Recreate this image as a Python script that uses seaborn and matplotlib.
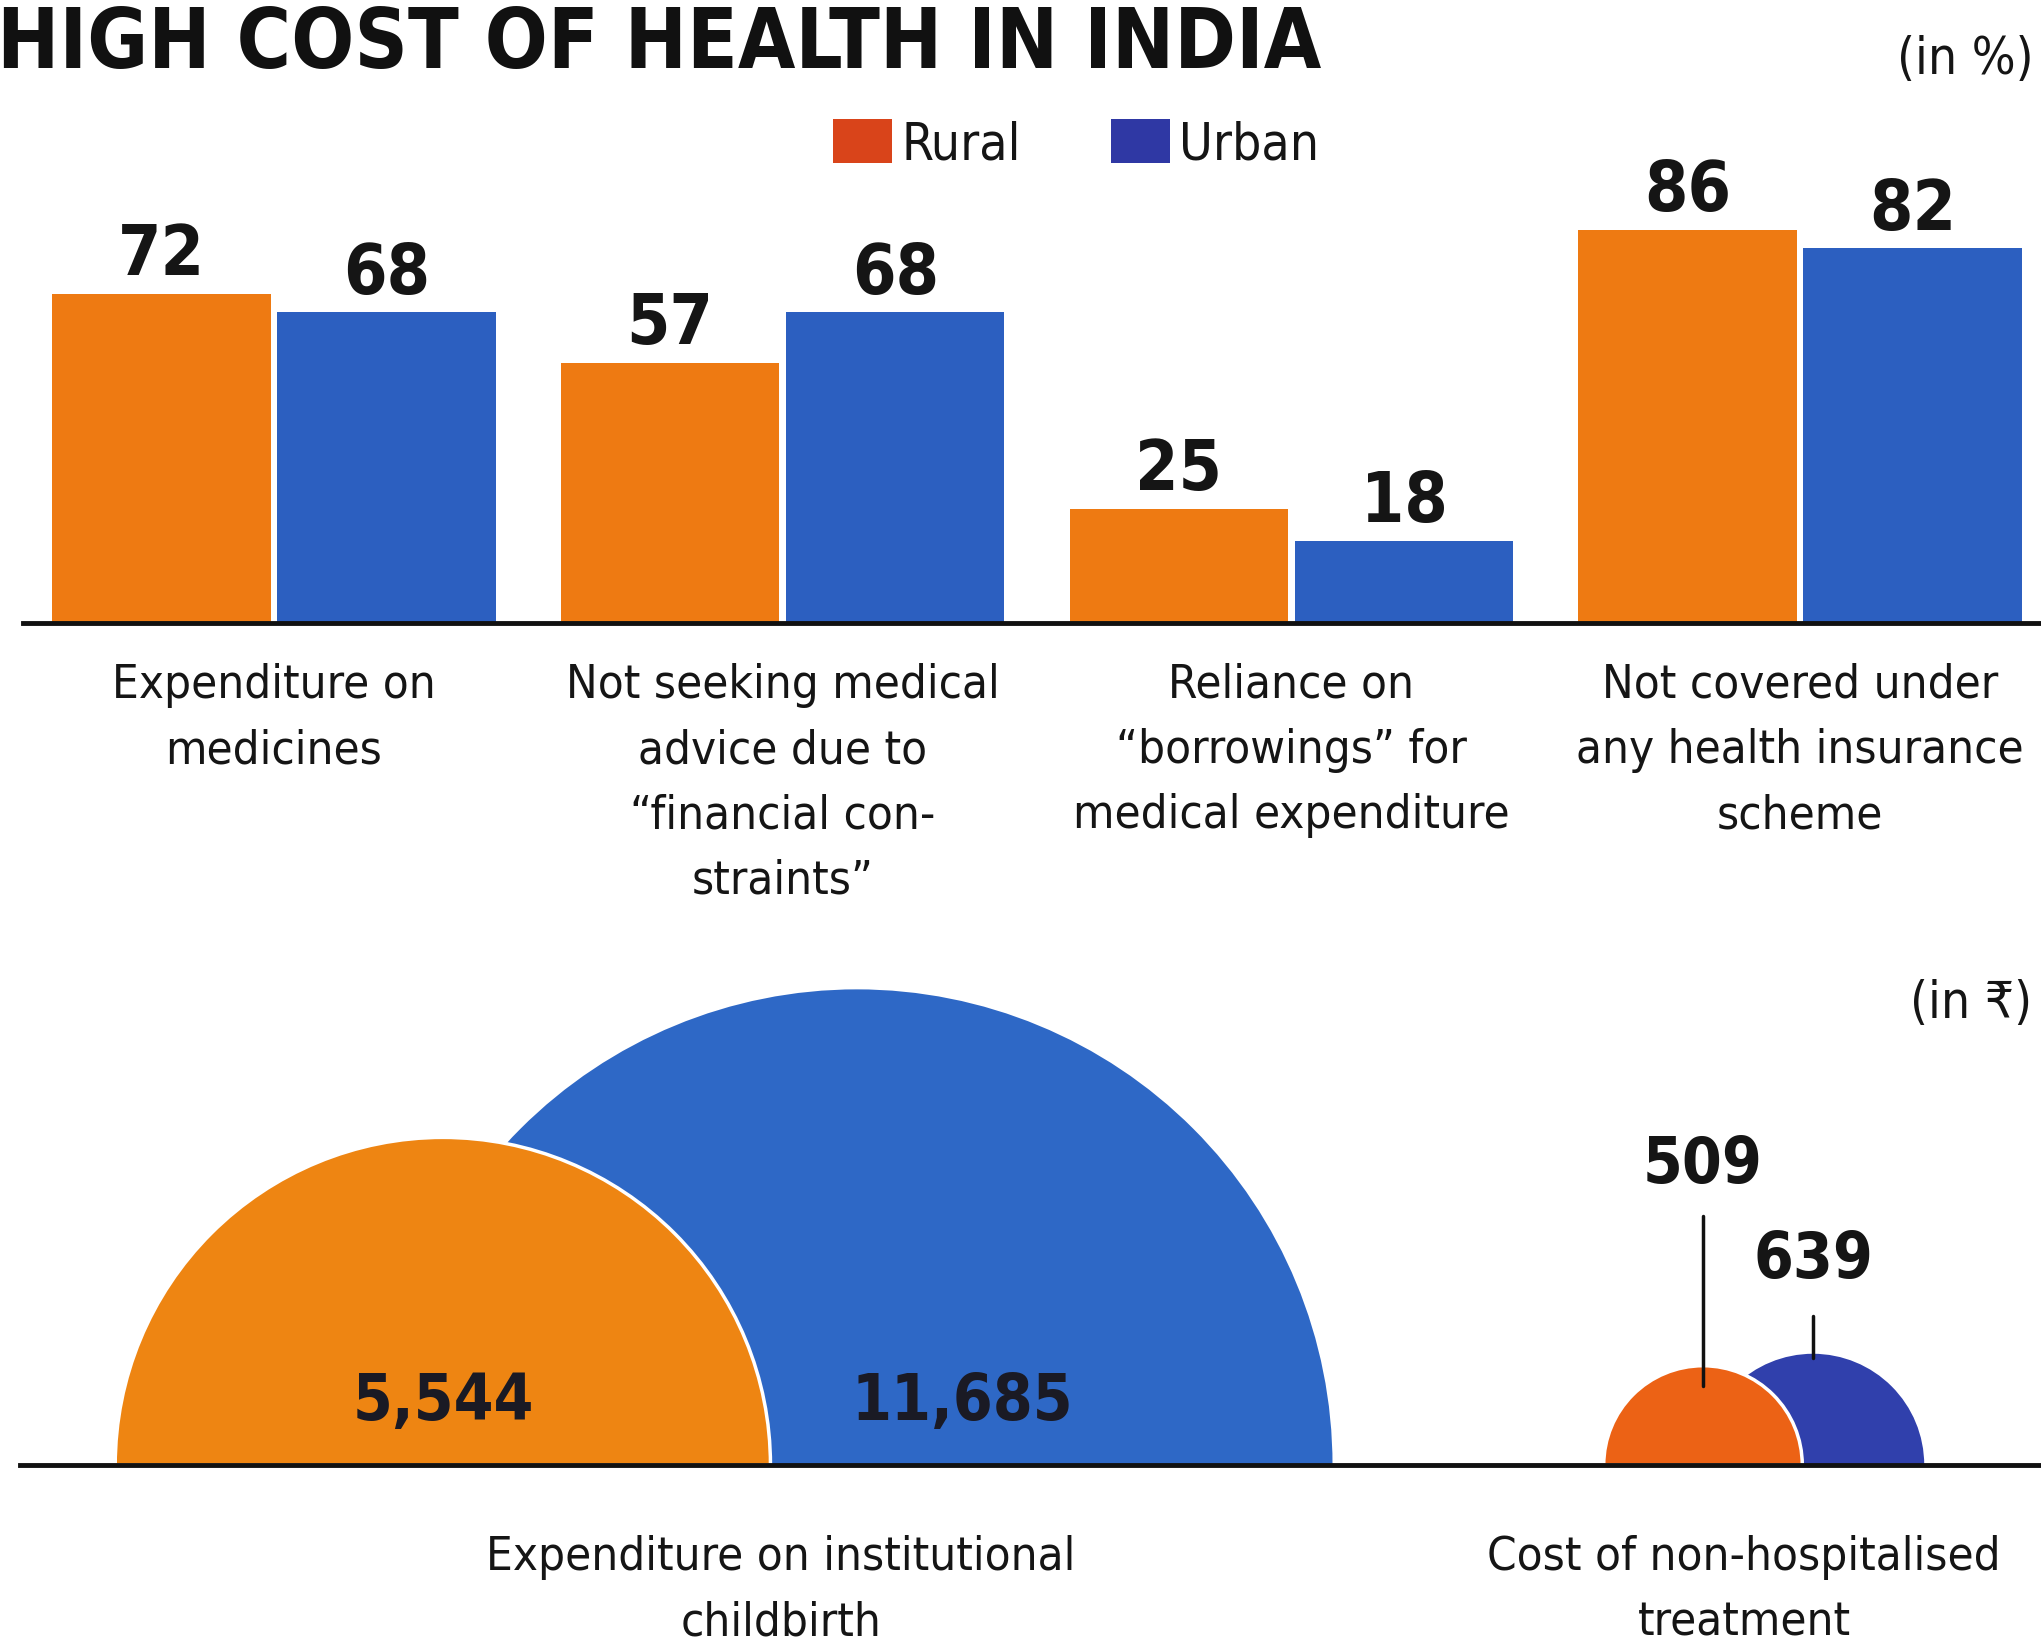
import numpy as np
import pandas as pd
import matplotlib
matplotlib.use("Agg")
import matplotlib.pyplot as plt
from matplotlib.patches import Wedge, Patch
from matplotlib import font_manager as fm
import seaborn as sns

# ---------------- data ----------------
categories = [
    "Expenditure on\nmedicines",
    "Not seeking medical\nadvice due to\n\u201cfinancial con-\nstraints\u201d",
    "Reliance on\n\u201cborrowings\u201d for\nmedical expenditure",
    "Not covered under\nany health insurance\nscheme",
]
rural_pct = [72, 57, 25, 86]
urban_pct = [68, 68, 18, 82]
series_names = ["Rural", "Urban"]

cost_categories = [
    "Expenditure on institutional\nchildbirth",
    "Cost of non-hospitalised\ntreatment",
]
rural_cost = [5544, 509]
urban_cost = [11685, 639]

title = "HIGH COST OF HEALTH IN INDIA"
unit_top = "(in %)"
unit_bottom = "(in \u20b9)"

# ---------------- style ----------------
sns.set_theme(style="white")
avail = {f.name for f in fm.fontManager.ttflist}
fam = [n for n in ["Liberation Sans Narrow", "DejaVu Sans"] if n in avail]
if "DejaVu Sans" not in fam:
    fam.append("DejaVu Sans")
plt.rcParams["font.family"] = fam
plt.rcParams["font.stretch"] = "condensed"

ORANGE = "#EE7A12"
BLUE = "#2C5FC0"
ORANGE_C = "#EE8512"
BLUE_C = "#2E68C6"
ORANGE_S = "#EC6215"
BLUE_S = "#3040AC"
LEG_O = "#D9441A"
LEG_B = "#2F38A4"
TXT = "#151515"

LABEL_FS = 34
LABEL_LS = 1.58

W, H = 2041, 1649
fig = plt.figure(figsize=(W / 100, H / 100), dpi=100)
fig.patch.set_facecolor("white")

# ---------------- top: bars ----------------
base1 = 624
top1 = 150
ppu = 4.57
ax1 = fig.add_axes([23 / W, 1 - base1 / H, 1 - 23 / W, (base1 - top1) / H])
df = pd.DataFrame({
    "category": categories * 2,
    "value": rural_pct + urban_pct,
    "area": [series_names[0]] * len(categories) + [series_names[1]] * len(categories),
})
sns.barplot(data=df, x="category", y="value", hue="area", order=categories,
            hue_order=series_names, palette=[ORANGE, BLUE], width=0.885, gap=0.03,
            ax=ax1, legend=False, linewidth=0, saturation=1)
gc = 508.7
ax1.set_xlim((23 - 274) / gc, (W - 274) / gc)
ax1.set_ylim(0, (base1 - top1) / ppu)
for cont in ax1.containers:
    ax1.bar_label(cont, fmt="%d", padding=4, fontsize=50, fontweight="bold", color=TXT)
for s in ["top", "left", "right"]:
    ax1.spines[s].set_visible(False)
ax1.spines["bottom"].set_color("#111111")
ax1.spines["bottom"].set_linewidth(3.5)
ax1.set_yticks([])
ax1.set_xlabel("")
ax1.set_ylabel("")
ax1.tick_params(axis="x", length=0, pad=28)
ax1.set_xticks(range(len(categories)))
ax1.set_xticklabels(categories, fontsize=LABEL_FS, color=TXT, linespacing=LABEL_LS,
                    ha="center", va="top")
ax1.set_facecolor("none")

# ---------------- bottom: semicircles ----------------
base2 = 1466
top2 = 880
k = 4.40  # px per sqrt-unit
ax2 = fig.add_axes([20 / W, 1 - base2 / H, 1 - 20 / W, (base2 - top2) / H])
ax2.set_xlim(0, (W - 20) / k)
ax2.set_ylim(0, (base2 - top2) / k)
ax2.set_facecolor("none")

rural_x = [96.1, 382.5]
urban_x = [190.2, 407.5]
orange_cols = [ORANGE_C, ORANGE_S]
blue_cols = [BLUE_C, BLUE_S]
for i in range(len(cost_categories)):
    rr = np.sqrt(rural_cost[i])
    ru = np.sqrt(urban_cost[i])
    ax2.add_patch(Wedge((urban_x[i], 0), ru, 0, 180, facecolor=blue_cols[i],
                        edgecolor="none", zorder=1))
    ax2.add_patch(Wedge((rural_x[i], 0), rr, 0, 180, facecolor=orange_cols[i],
                        edgecolor="white", linewidth=2.5, zorder=2))

# big labels inside
ax2.text(rural_x[0], 14.5, f"{rural_cost[0]:,}", ha="center", va="center",
         fontsize=46, fontweight="bold", color="#1a1a24", zorder=5)
ax2.text(urban_x[0] + 24, 14.5, f"{urban_cost[0]:,}", ha="center", va="center",
         fontsize=46, fontweight="bold", color="#1a1a24", zorder=5)
# small labels with leaders
r509 = np.sqrt(rural_cost[1])
r639 = np.sqrt(urban_cost[1])
ax2.text(rural_x[1], 68.5, f"{rural_cost[1]:,}", ha="center", va="center",
         fontsize=46, fontweight="bold", color=TXT, zorder=5)
ax2.plot([rural_x[1], rural_x[1]], [r509 - 4.5, 56.6], color="#111111", lw=2.5, zorder=4)
ax2.text(urban_x[1], 46.8, f"{urban_cost[1]:,}", ha="center", va="center",
         fontsize=46, fontweight="bold", color=TXT, zorder=5)
ax2.plot([urban_x[1], urban_x[1]], [r639 - 1.0, 33.9], color="#111111", lw=2.5, zorder=4)

for s in ["top", "left", "right"]:
    ax2.spines[s].set_visible(False)
ax2.spines["bottom"].set_color("#111111")
ax2.spines["bottom"].set_linewidth(3.5)
ax2.spines["bottom"].set_zorder(6)
ax2.set_yticks([])
ax2.set_xticks([(781 - 20) / k, (1744 - 20) / k])
ax2.set_xticklabels(cost_categories, fontsize=LABEL_FS, color=TXT, linespacing=LABEL_LS,
                    ha="center", va="top")
ax2.tick_params(axis="x", length=0, pad=50)

# ---------------- titles / legend ----------------
fig.text(-3 / W, 1 - 68 / H, title, ha="left", va="baseline", fontsize=59.5,
         fontweight="heavy", color="#111111")
fig.text(2034 / W, 1 - 60 / H, unit_top, ha="right", va="center", fontsize=37, color=TXT)
fig.text(2032 / W, 1 - 1004 / H, unit_bottom, ha="right", va="center", fontsize=37, color=TXT)

handles = [Patch(facecolor=LEG_O, edgecolor="none"), Patch(facecolor=LEG_B, edgecolor="none")]
fig.legend(handles, series_names, loc="upper left", bbox_to_anchor=(833 / W, 1 - 120 / H),
           ncol=2, frameon=False, fontsize=37, handlelength=1.15, handleheight=0.93,
           handletextpad=0.18, columnspacing=1.75, borderpad=0, borderaxespad=0,
           labelcolor=TXT)

fig.savefig("out.png", dpi=100, facecolor="white")
